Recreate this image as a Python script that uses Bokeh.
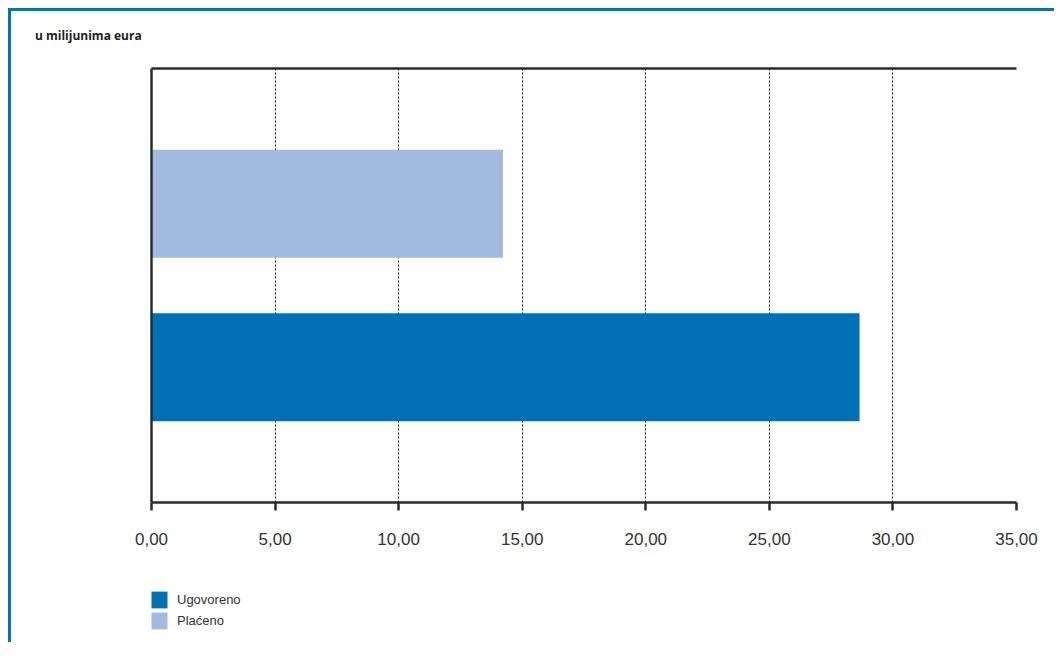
from bokeh.plotting import figure
from bokeh.models import (Range1d, FixedTicker, LinearAxis, Legend, LegendItem,
                          ColumnDataSource, Div)
from bokeh.layouts import column
from bokeh.embed import file_html
from bokeh.resources import INLINE

# ---- data ----
categories = ["Ugovoreno", "Plaćeno"]
values = [28.65, 14.22]
colors = ["#0071b3", "#a2badf"]
x_ticks = [0, 5, 10, 15, 20, 25, 30, 35]
x_tick_labels = ["0,00", "5,00", "10,00", "15,00", "20,00", "25,00", "30,00", "35,00"]
title_text = "u milijunima eura"

positions = [i + 1 for i in range(len(categories))]
src = ColumnDataSource(dict(cat=categories, pos=positions, val=values, color=colors))

BLUE = "3px solid #0075bf"
RIGHT = 44

# ---- title block ----
title_div = Div(
    text=f'<div style="font-family:\'Open Sans\';font-weight:bold;font-size:12px;'
         f'color:#222222;padding:17px 0 0 24px;line-height:16px;">{title_text}</div>',
    width=140 + 862 + RIGHT, height=50, margin=(0, 0, 0, 0),
    styles={"border-top": BLUE, "border-left": BLUE, "margin-left": "8px", "margin-top": "8px"},
)

# ---- main chart ----
p = figure(
    title=None,
    y_range=Range1d(0.173, 2.827),
    x_range=Range1d(0, 35),
    frame_width=862, frame_height=434,
    min_border_left=140, min_border_top=10, min_border_right=RIGHT, min_border_bottom=60,
    output_backend="svg", toolbar_location=None,
    outline_line_color=None,
)
p.styles = {"border-left": BLUE, "margin-left": "8px"}

r = p.hbar(y="pos", right="val", left=0, height=0.66, color="color", source=src, line_color=None)

xa = p.xaxis[0]
xa.ticker = FixedTicker(ticks=x_ticks)
xa.major_label_overrides = {t: l for t, l in zip(x_ticks, x_tick_labels)}
xa.minor_tick_line_color = None
xa.major_tick_in = 0
xa.major_tick_out = 8
xa.major_tick_line_width = 2.5
xa.major_tick_line_color = "#2b2b2b"
xa.axis_line_width = 2.5
xa.axis_line_color = "#2b2b2b"
xa.major_label_text_font = "Liberation Sans"
xa.major_label_text_font_size = "17px"
xa.major_label_text_color = "#333333"
xa.major_label_standoff = 22

ya = p.yaxis[0]
ya.ticker = FixedTicker(ticks=[])
ya.major_tick_line_color = None
ya.minor_tick_line_color = None
ya.axis_line_width = 2.5
ya.axis_line_color = "#2b2b2b"

top = LinearAxis(major_tick_line_color=None, minor_tick_line_color=None,
                 major_tick_in=0, major_tick_out=0, minor_tick_in=0, minor_tick_out=0,
                 major_label_standoff=0, axis_label_standoff=0,
                 axis_line_width=2.5, axis_line_color="#2b2b2b",
                 ticker=FixedTicker(ticks=[]))
p.add_layout(top, "above")

p.ygrid.grid_line_color = None
p.xgrid.ticker = FixedTicker(ticks=x_ticks)
p.xgrid.grid_line_color = "#111111"
p.xgrid.grid_line_dash = "2 2"
p.xgrid.grid_line_width = 1

# ---- legend block (same data, bars outside its visible range) ----
p2 = figure(
    title=None,
    x_range=p.x_range, y_range=Range1d(10, 11),
    frame_width=862, frame_height=80,
    min_border_left=140, min_border_top=0, min_border_right=RIGHT, min_border_bottom=0,
    output_backend="svg", toolbar_location=None,
    outline_line_color=None,
)
p2.styles = {"border-left": BLUE, "margin-left": "8px"}
p2.axis.visible = False
p2.grid.visible = False
r2 = p2.hbar(y="pos", right="val", left=0, height=0.66, color="color", source=src, line_color=None)

legend = Legend(
    items=[LegendItem(label=categories[0], renderers=[r2], index=0),
           LegendItem(label=categories[1], renderers=[r2], index=1)],
    location=(-2, 11), orientation="vertical",
    glyph_width=20, glyph_height=21, spacing=0, padding=0, margin=0,
    label_standoff=8, label_text_font="Liberation Sans", label_text_font_size="13px",
    label_text_color="#333333", label_height=21,
    border_line_color=None, background_fill_alpha=0,
)
p2.add_layout(legend, "center")

layout = column(title_div, p, p2, spacing=0)
open("out.html", "w").write(file_html(layout, INLINE))
